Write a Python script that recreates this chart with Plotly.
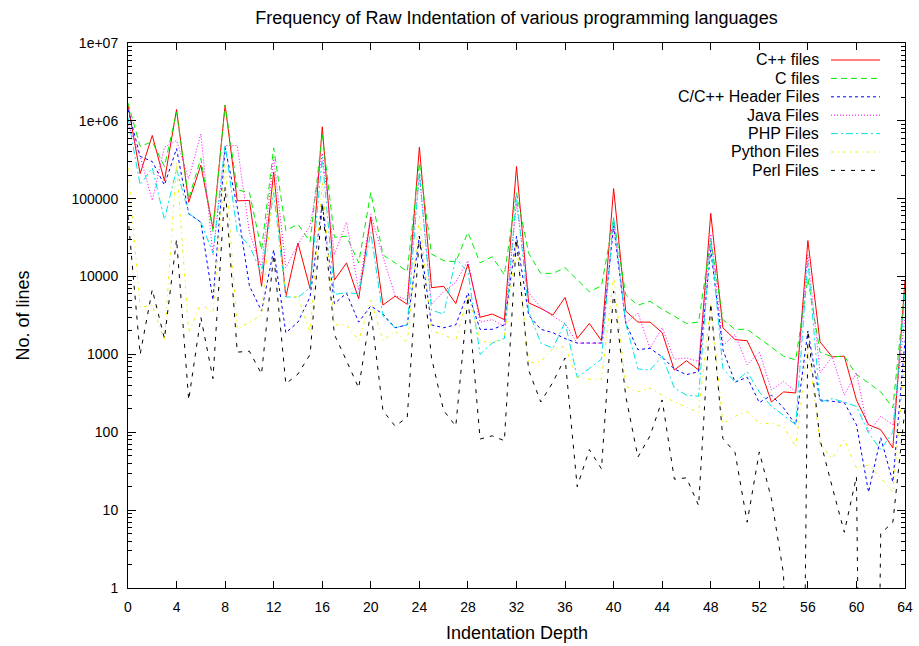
import plotly.graph_objects as go

depth = list(range(65))

cpp = [1.6e6, 2.1e5, 6.5e5, 1.7e5, 1.4e6, 9.0e4, 2.7e5, 4.1e4, 1.6e6, 9.4e4,
       9.5e4, 7.5e3, 2.2e5, 5.5e3, 2.7e4, 7.0e3, 8.4e5, 9.0e3, 1.5e4, 5.2e3,
       5.8e4, 4.3e3, 5.6e3, 4.4e3, 4.6e5, 7.2e3, 7.5e3, 4.5e3, 1.45e4, 3.0e3,
       3.3e3, 2.8e3, 2.6e5, 4.6e3, 3.9e3, 3.2e3, 5.4e3, 1.6e3, 2.5e3, 1.5e3,
       1.35e5, 3.6e3, 2.6e3, 2.6e3, 1.9e3, 630, 830, 630, 6.5e4, 2.2e3,
       1.55e3, 1.5e3, 700, 245, 330, 320, 2.9e4, 1.45e3, 930, 950,
       260, 125, 108, 63, 9000]

c_files = [1.7e6, 4.7e5, 5.4e5, 2.6e5, 1.3e6, 1.0e5, 3.3e5, 3.8e4, 1.6e6, 1.3e5,
           1.2e5, 2.2e4, 4.5e5, 3.9e4, 4.7e4, 2.8e4, 6.8e5, 3.2e4, 3.3e4, 1.5e4,
           1.2e5, 1.9e4, 1.5e4, 1.16e4, 2.9e5, 1.95e4, 1.6e4, 1.55e4, 3.7e4, 1.5e4,
           1.8e4, 1.05e4, 1.2e5, 2.0e4, 1.1e4, 1.1e4, 1.3e4, 9.0e3, 6.4e3, 7.6e3,
           5.5e4, 5.8e3, 4.3e3, 4.8e3, 3.8e3, 3.1e3, 2.5e3, 2.6e3, 3.0e4, 2.8e3,
           2.1e3, 2.1e3, 1.6e3, 1.25e3, 950, 850, 9.5e3, 1.07e3, 930, 950,
           550, 430, 330, 205, 7000]

headers = [1.4e6, 3.5e5, 3.0e5, 1.5e5, 4.4e5, 6.4e4, 5.0e4, 5.0e3, 4.5e5, 7.8e4,
           7.6e3, 3.6e3, 2.2e4, 1.9e3, 2.6e3, 5.5e3, 8.7e4, 4.5e3, 6.1e3, 2.6e3,
           4.2e3, 3.3e3, 2.2e3, 2.4e3, 3.3e4, 2.4e3, 2.2e3, 2.4e3, 6.2e3, 2.1e3,
           2.1e3, 2.4e3, 3.3e4, 3.2e3, 2.1e3, 1.9e3, 1.6e3, 1.4e3, 1.4e3, 1.4e3,
           4.5e4, 2.5e3, 1.15e3, 1.2e3, 930, 650, 550, 600, 2.2e4, 1.15e3,
           440, 510, 240, 300, 205, 125, 2.0e3, 260, 250, 240,
           125, 17, 85, 23, 1500]

java = [9.0e5, 3.5e5, 9.5e4, 4.6e5, 5.6e5, 1.8e5, 6.8e5, 1.9e4, 4.8e5, 4.8e5,
        3.7e4, 1.3e4, 3.4e5, 1.3e4, 2.6e4, 4.5e4, 3.8e5, 1.9e4, 5.0e4, 6.7e3,
        6.3e4, 1.8e4, 5.7e3, 5.0e3, 2.0e5, 4.4e3, 6.4e3, 8.5e3, 1.6e4, 2.6e3,
        2.8e3, 2.3e3, 8.6e4, 6.2e3, 4.0e3, 3.1e3, 2.5e3, 1.4e3, 1.4e3, 1.4e3,
        5.0e4, 2.5e3, 3.4e3, 1.2e3, 2.2e3, 870, 900, 810, 3.5e4, 1.3e3,
        1.8e3, 740, 1.07e3, 350, 450, 330, 1.9e4, 580, 930, 300,
        580, 100, 160, 125, 3000]

php = [1.1e6, 1.5e5, 2.5e5, 5.4e4, 2.4e5, 6.5e4, 5.0e4, 2.0e4, 5.0e5, 3.7e4,
       2.5e4, 1.1e4, 1.2e5, 5.5e3, 5.4e3, 7.2e3, 3.4e5, 5.9e3, 6.2e3, 6.0e3,
       3.7e4, 3.1e3, 2.2e3, 2.4e3, 2.2e5, 3.7e3, 3.3e3, 1.7e4, 1.15e4, 1.0e3,
       1.4e3, 1.6e3, 1.1e5, 3.6e3, 1.4e3, 1.2e3, 2.6e3, 510, 660, 870,
       5.9e4, 2.5e3, 650, 630, 950, 370, 300, 290, 3.0e4, 660,
       440, 600, 330, 215, 165, 125, 1.6e4, 245, 270, 245,
       215, 98, 60, 100, 6000]

python = [2.5e5, 4.0e3, 4.3e3, 1.5e3, 2.9e5, 1.9e3, 4.5e3, 3.4e3, 2.9e5, 2.1e3,
          2.6e3, 3.2e3, 1.6e5, 5.5e3, 5.5e3, 1.9e3, 1.6e5, 2.4e3, 2.4e3, 1.5e3,
          5.0e3, 1.5e3, 2.0e3, 1.4e3, 6.0e4, 2.0e3, 1.8e3, 1.5e3, 5.8e3, 1.5e3,
          1.4e3, 1.7e3, 2.7e4, 780, 810, 1.2e3, 1.26e3, 510, 480, 480,
          1.0e4, 390, 330, 370, 300, 245, 210, 180, 4.5e3, 130,
          160, 185, 130, 130, 118, 65, 1.3e3, 72, 46, 80,
          35, 38, 26, 17, 800]

perl = [6.0e4, 1.0e3, 6.8e3, 1.6e3, 3.0e4, 260, 3.0e3, 490, 1.4e5, 1.07e3,
        1.1e3, 560, 1.9e4, 420, 560, 1.0e3, 8.7e4, 1.8e3, 830, 370,
        3.6e3, 190, 120, 155, 3.3e4, 900, 190, 120, 5.5e3, 82,
        90, 78, 3.0e4, 630, 245, 440, 900, 20, 60, 34,
        6.5e3, 290, 48, 90, 260, 25, 26, 11.5, 4.5e3, 83,
        55, 7, 56, 14, 1.5, 0, 2.0e3, 80, 20, 5.2,
        27, 0, 5, 7, 200]

names = ["C++ files", "C files", "C/C++ Header Files", "Java Files",
         "PHP Files", "Python Files", "Perl Files"]
series = [cpp, c_files, headers, java, php, python, perl]
colors = ["#ff0000", "#00ee00", "#0000ff", "#ff00ff", "#00e5e5", "#f0f000", "#000000"]
dashes = ["solid", "6px,4px", "3px,3px", "1px,2px", "7px,3px,2px,3px",
          "3px,4px,1px,4px", "4px,6px"]

FONT = "Liberation Sans, Arial, Helvetica, sans-serif"
TXT = 18   # title / axis-title size
KEY = 16   # key text size
TICK = 14  # tick label size
FLOOR = 1e-12  # gnuplot draws log(0) as a plunge to the bottom edge

# plot-area geometry in pixels (for the hand-built gnuplot-style key)
L, R, T, B = 128, 905, 43, 588
W, H = 919, 646

fig = go.Figure()
for name, vals, col, dsh in zip(names, series, colors, dashes):
    fig.add_trace(go.Scatter(
        x=depth, y=[v if v > 0 else FLOOR for v in vals], mode="lines", name=name,
        line=dict(color=col, width=1, dash=dsh), showlegend=False,
        hoverinfo="skip"))
# empty trace so the minor-tick overlay axis gets drawn
fig.add_trace(go.Scatter(x=[], y=[], yaxis="y2", showlegend=False))

major = [10 ** k for k in range(8)]
major_txt = ["1", "10", "100", "1000", "10000", "100000", "1e+06", "1e+07"]
minor = [m * 10 ** k for k in range(7) for m in range(2, 10)]

fig.update_layout(
    width=W, height=H, autosize=False,
    margin=dict(l=L, r=W - R, t=T, b=H - B, autoexpand=False),
    paper_bgcolor="white", plot_bgcolor="white",
    font=dict(family=FONT, size=TICK, color="black"),
    title=dict(text="Frequency of Raw Indentation of various programming languages",
               x=0.5, xref="paper", xanchor="center",
               y=1 - 18 / H, yref="container", yanchor="middle",
               font=dict(family=FONT, size=TXT, color="black")),
    xaxis=dict(range=[0, 64], tickvals=list(range(0, 65, 4)), ticks="inside",
               ticklen=7, tickcolor="black", showline=True, linecolor="black",
               linewidth=1, mirror="ticks", showgrid=False, zeroline=False,
               ticklabelstandoff=6, tickfont=dict(size=TICK), automargin=False),
    yaxis=dict(type="log", range=[0, 7], tickvals=major, ticktext=major_txt,
               ticks="inside", ticklen=8, tickcolor="black", showline=True,
               linecolor="black", linewidth=1, mirror="ticks", showgrid=False,
               zeroline=False, ticklabelstandoff=6, tickfont=dict(size=TICK),
               automargin=False),
    yaxis2=dict(type="log", range=[0, 7], overlaying="y", side="left",
                tickvals=minor, showticklabels=False, ticks="inside", ticklen=4,
                tickcolor="black", mirror="ticks", showline=False,
                showgrid=False, zeroline=False, automargin=False),
)

# axis titles
fig.add_annotation(text="Indentation Depth", xref="paper", yref="paper",
                   x=0.5, y=(B - 633) / (B - T), showarrow=False,
                   xanchor="center", yanchor="middle", font=dict(size=TXT))
fig.add_annotation(text="No. of lines", xref="paper", yref="paper",
                   x=(22 - L) / (R - L), y=0.5, textangle=-90, showarrow=False,
                   xanchor="center", yanchor="middle", font=dict(size=TXT))

# gnuplot-style key: right-aligned text, sample line on its right
for i, (name, col, dsh) in enumerate(zip(names, colors, dashes)):
    ypx = 60 + i * 18.4
    yp = (B - ypx) / (B - T)
    fig.add_annotation(text=name, xref="paper", yref="paper",
                       x=(820 - L) / (R - L), y=yp, xanchor="right",
                       yanchor="middle", showarrow=False, borderpad=0,
                       font=dict(size=KEY))
    fig.add_shape(type="line", xref="paper", yref="paper",
                  x0=(831 - L) / (R - L), x1=(880 - L) / (R - L), y0=yp, y1=yp,
                  line=dict(color=col, width=1, dash=dsh))

fig.write_html("out.html", config={"displayModeBar": False},
               post_script="document.body.style.margin='0px';")
